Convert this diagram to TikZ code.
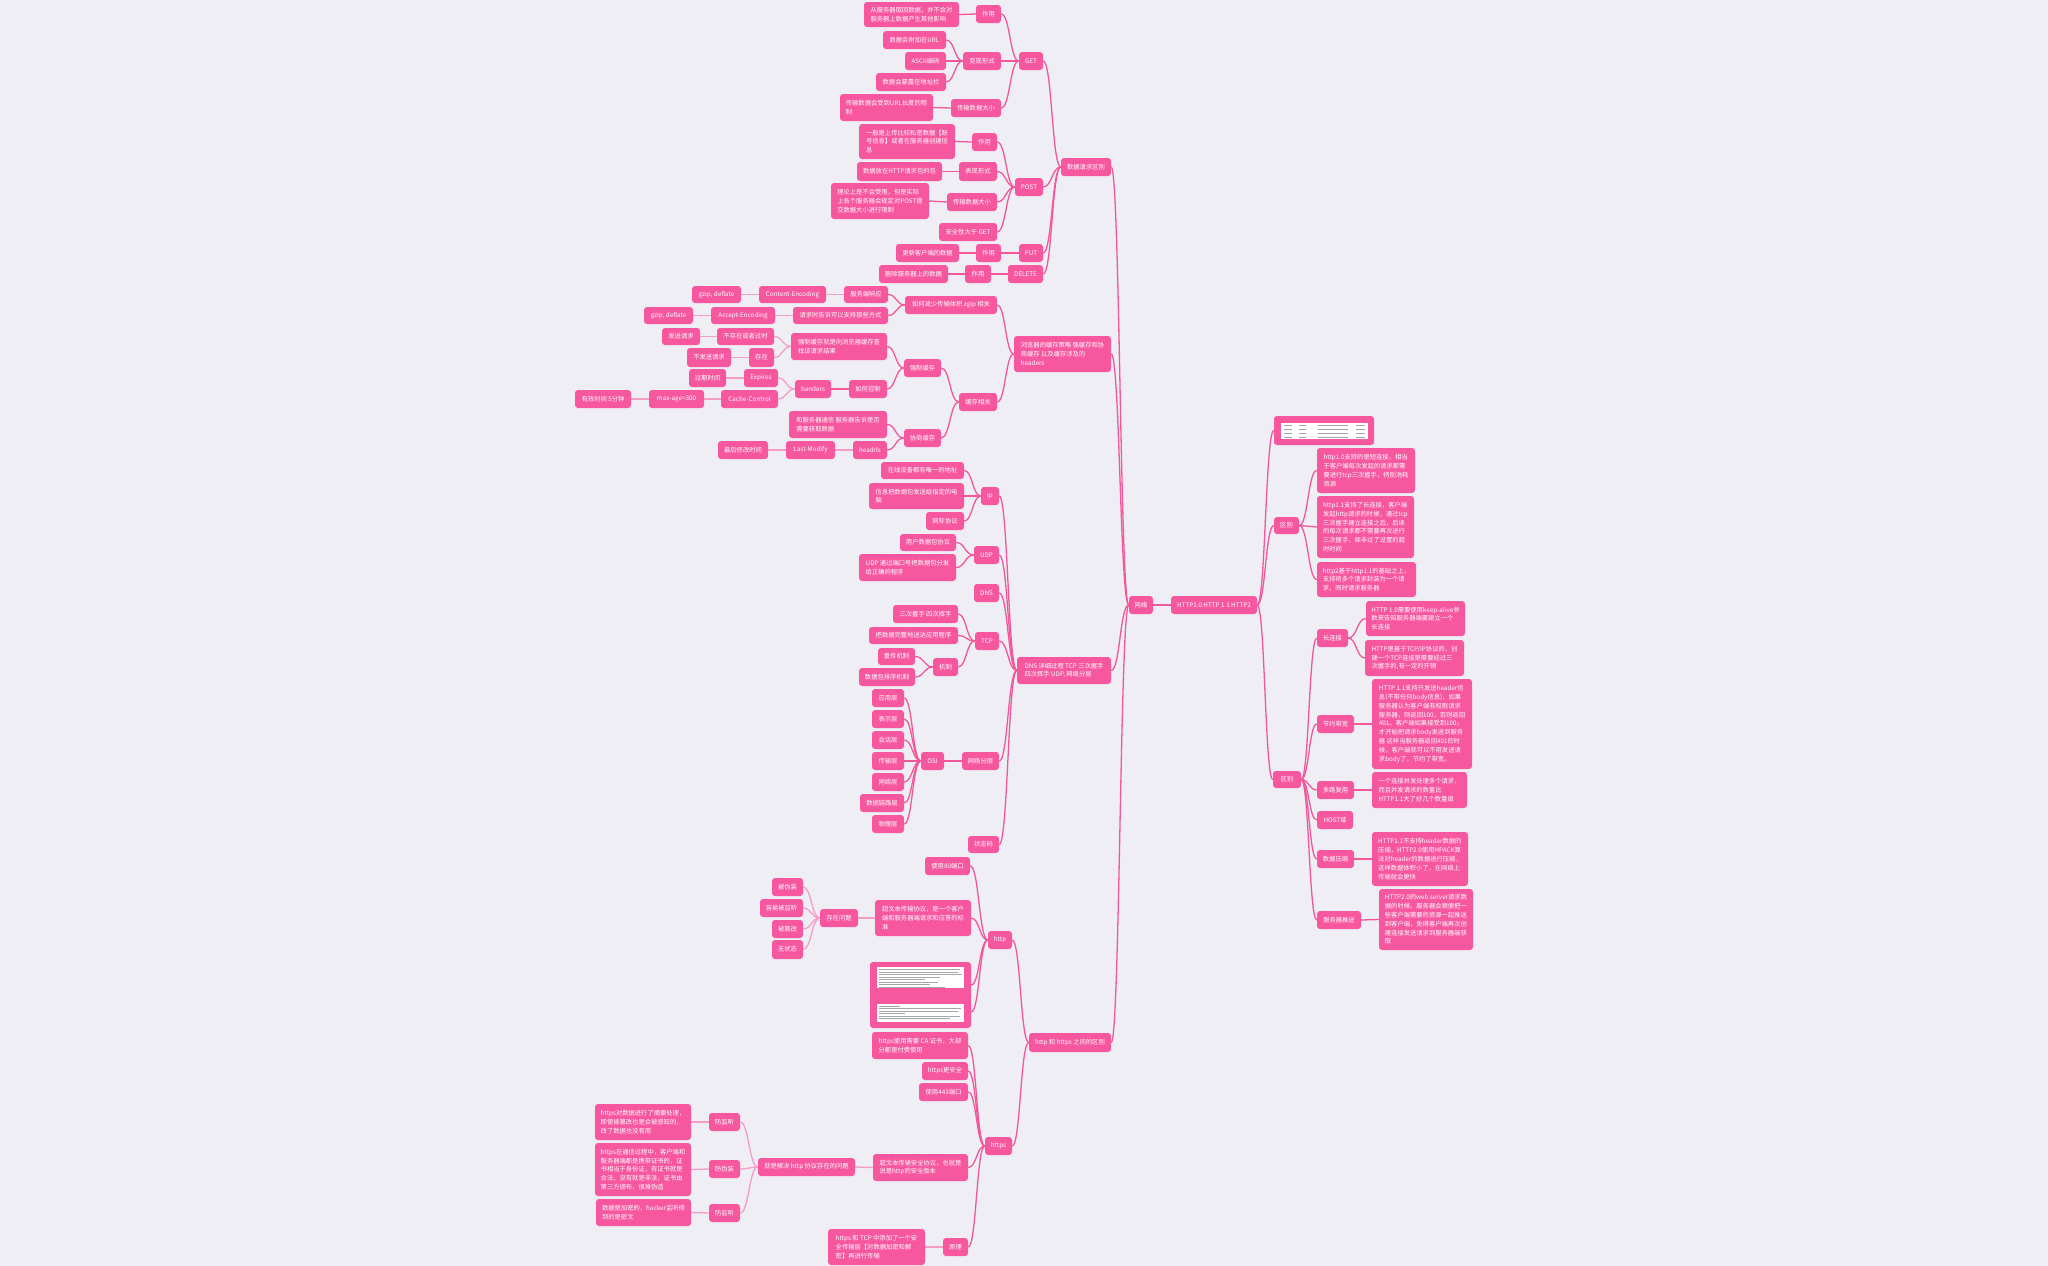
\documentclass[tikz,border=0pt]{standalone}
\usepackage{fontspec}
\setmainfont{Noto Sans CJK SC}
\usetikzlibrary{calc}
\definecolor{pk}{HTML}{F7579F}
\definecolor{ed}{HTML}{F2579C}
\definecolor{edl}{HTML}{F59DC4}
\definecolor{bg}{HTML}{EFEEF4}
\tikzset{
 nb/.style={fill=pk, rounded corners=3pt, text=white, inner sep=0pt, font=\fontsize{6.3}{8.8}\selectfont, align=left},
 lk/.style={draw=ed, line width=1.3pt, to path={.. controls ($(\tikztostart)!0.5!(\tikztotarget |- \tikztostart)$) and ($(\tikztotarget)!0.5!(\tikztostart |- \tikztotarget)$) .. (\tikztotarget) \tikztonodes}},
 lkl/.style={lk, draw=edl},
}
\newcommand\nd[6]{\node[nb, minimum width={#4-#2}, minimum height={#5-#3}] (#1) at ({(#2+#4)/2},{(#3+#5)/2}) {#6};}
\newcommand\fanL[2]{\foreach \c in {#2}{\draw[lk] (#1.west) to (\c.east);}}
\newcommand\fanLl[2]{\foreach \c in {#2}{\draw[lkl] (#1.west) to (\c.east);}}
\newcommand\fanR[2]{\foreach \c in {#2}{\draw[lk] (#1.east) to (\c.west);}}
\begin{document}
\begin{tikzpicture}[x=1pt,y=-1pt]
\fill[bg] (0,0) rectangle (2048,1266);
\useasboundingbox (0,0) rectangle (2048,1266);
% ---------- data request
\nd{dq}{1061}{158}{1111}{176}{数据请求区别}
\nd{get}{1019}{52}{1043}{70}{GET}
\nd{ga}{976}{5}{1001}{23}{作用}
\nd{gaa}{864}{2}{959}{27}{从服务器取回数据，并不会对\\服务器上数据产生其他影响}
\nd{gb}{963}{52}{1001}{70}{变现形式}
\nd{gba}{883}{31}{946}{49}{数据会附加在URL}
\nd{gbb}{905}{52}{946}{70}{ASCII编码}
\nd{gbc}{876}{73}{946}{91}{数据会暴露在地址栏}
\nd{gc}{951}{99}{1001}{117}{传输数据大小}
\nd{gca}{840}{94}{933}{121}{传输数据会受到URL长度的限\\制}
\nd{post}{1015}{178}{1043}{196}{POST}
\nd{pa}{972}{133}{997}{151}{作用}
\nd{paa}{859}{124}{955}{159}{一般是上传比较私密数据【账\\号信息】或者在服务器创建信\\息}
\nd{pb}{959}{162}{997}{181}{表现形式}
\nd{pba}{857}{162}{942}{181}{数据放在HTTP请求包的包}
\nd{pc}{947}{193}{997}{211}{传输数据大小}
\nd{pca}{831}{183}{929}{219}{理论上是不会受限，但是实际\\上各个服务器会规定对POST提\\交数据大小进行限制}
\nd{pd}{939}{223}{997}{241}{安全性大于 GET}
\nd{put}{1019}{244}{1043}{262}{PUT}
\nd{ua}{976}{244}{1001}{262}{作用}
\nd{uaa}{896}{244}{959}{262}{更新客户端的数据}
\nd{del}{1008}{265}{1043}{283}{DELETE}
\nd{da}{965}{265}{991}{283}{作用}
\nd{daa}{879}{265}{948}{283}{删除服务器上的数据}
% ---------- cache
\nd{bc}{1014}{336}{1111}{372}{浏览器的缓存策略 强缓存和协\\商缓存 以及缓存涉及的\\headers}
\nd{zs}{905}{296}{997}{314}{如何减少传输体积 zgip 相关}
\nd{fw}{844}{286}{888}{303}{服务端响应}
\nd{ce}{759}{286}{826}{303}{Content-Encoding}
\nd{gza}{692}{286}{741}{303}{gzip, deflate}
\nd{qq}{793}{307}{888}{324}{请求时告诉可以支持那些方式}
\nd{ae}{711}{307}{775}{324}{Accept-Encoding}
\nd{gzb}{644}{307}{693}{324}{gzip, deflate}
\nd{hc}{959}{393}{997}{411}{缓存相关}
\nd{qz}{904}{359}{941}{377}{强制缓存}
\nd{qzd}{791}{333}{887}{360}{强制缓存就是向浏览器缓存查\\找该请求结果}
\nd{bcz}{717}{328}{774}{345}{不存在或者过时}
\nd{fs}{662}{328}{700}{345}{发送请求}
\nd{cz}{749}{348}{774}{367}{存在}
\nd{bfs}{687}{348}{731}{367}{不发送请求}
\nd{rk}{849}{380}{887}{398}{如何控制}
\nd{hd}{795}{380}{831}{398}{handers}
\nd{ex}{744}{369}{778}{387}{Expires}
\nd{gq}{689}{369}{726}{387}{过期时间}
\nd{cc}{721}{390}{778}{408}{Cache-Control}
\nd{ma}{649}{390}{704}{408}{max-age=300}
\nd{yx}{575}{390}{631}{408}{有效时间 5分钟}
\nd{xs}{904}{429}{941}{447}{协商缓存}
\nd{hf}{789}{411}{887}{438}{和服务器通信 服务器告诉是否\\需要获取数据}
\nd{hr}{853}{441}{887}{459}{headrls}
\nd{lm}{786}{441}{835}{459}{Last-Modify}
\nd{zh}{718}{441}{768}{459}{最后修改时间}
% ---------- DNS / TCP
\nd{dnsz}{1017}{657}{1111}{684}{DNS 详细过程 TCP 三次握手\\四次挥手 UDP, 网络分层}
\nd{ip}{981}{487}{999}{505}{ip}
\nd{ia}{881}{462}{964}{479}{在线设备都有唯一的地址}
\nd{ib}{869}{483}{964}{509}{信息把数据包发送给指定的电\\脑}
\nd{ic}{926}{512}{964}{530}{网际协议}
\nd{udp}{974}{546}{999}{564}{UDP}
\nd{uda}{900}{534}{956}{551}{用户数据包协议}
\nd{udb}{859}{554}{956}{581}{UDP 通过端口号把数据包分发\\给正确的程序}
\nd{dns}{974}{584}{999}{602}{DNS}
\nd{tcp}{975}{632}{999}{650}{TCP}
\nd{ta}{893}{605}{958}{623}{三次握手 四次挥手}
\nd{tb}{869}{627}{958}{644}{把数据完整地送达应用程序}
\nd{tc}{933}{658}{958}{676}{机制}
\nd{tca}{878}{648}{915}{665}{重传机制}
\nd{tcb}{859}{668}{915}{686}{数据包排序机制}
\nd{fc}{962}{752}{999}{770}{网络分层}
\nd{osi}{921}{752}{944}{770}{OSI}
\nd{la}{872}{689}{904}{707}{应用层}
\nd{lb}{872}{710}{904}{728}{表示层}
\nd{lc}{872}{731}{904}{749}{会话层}
\nd{ld}{872}{752}{904}{770}{传输层}
\nd{le}{872}{773}{904}{791}{网络层}
\nd{lf}{860}{794}{904}{812}{数据链路层}
\nd{lg}{872}{815}{904}{833}{物理层}
\nd{zt}{968}{836}{999}{853}{状态码}
% ---------- http / https
\nd{hh}{1029}{1033}{1111}{1052}{http 和 https 之间的区别}
\nd{http}{988}{931}{1012}{949}{http}
\nd{hea}{925}{857}{970}{875}{使用80端口}
\nd{hcs}{875}{900}{971}{936}{超文本传输协议，是一个客户\\端和服务器端请求和应答的标\\准}
\nd{wt}{820}{909}{858}{927}{存在问题}
\nd{wa}{772}{878}{803}{896}{被伪装}
\nd{wb}{760}{899}{803}{917}{容易被监听}
\nd{wc}{772}{920}{803}{938}{被篡改}
\nd{wd}{772}{940}{803}{959}{无状态}
\nd{imgs}{870}{962}{971}{1028}{}
\nd{https}{985}{1137}{1012}{1155}{https}
\nd{sa}{872}{1032}{968}{1059}{https使用需要 CA 证书，大部\\分都是付费使用}
\nd{sb}{922}{1062}{968}{1080}{https更安全}
\nd{sc}{919}{1083}{968}{1101}{使用443端口}
\nd{sd}{873}{1154}{968}{1181}{超文本传输安全协议，也就是\\说是http的安全版本}
\nd{sda}{758}{1158}{855}{1176}{就是解决 http 协议存在的问题}
\nd{fa}{709}{1113}{740}{1131}{防监听}
\nd{faa}{595}{1104}{691}{1140}{https对数据进行了摘要处理，\\即使被篡改也是会被感知的，\\改了数据也没有用}
\nd{fb}{709}{1160}{740}{1178}{防伪装}
\nd{fba}{595}{1143}{691}{1196}{https在通信过程中，客户端和\\服务器端都是携带证书的，证\\书相当于身份证，有证书就是\\合法，没有就是非法，证书由\\第三方颁布，很难伪造}
\nd{fcc}{709}{1204}{740}{1222}{防监听}
\nd{fca}{596}{1199}{691}{1226}{数据是加密的，hacker监听得\\到的是密文}
\nd{yl}{943}{1238}{968}{1256}{原理}
\nd{yla}{828}{1229}{925}{1265}{https 和 TCP 中添加了一个安\\全传输层【对数据加密和解\\密】再进行传输}
% ---------- root and right side
\nd{root}{1129}{596}{1153}{614}{网络}
\nd{hv}{1171}{596}{1257}{614}{HTTP1.0 HTTP 1.1 HTTP2}
\nd{tbl}{1274}{416}{1374}{445}{}
\nd{qba}{1274}{517}{1299}{534}{区别}
\nd{aa}{1317}{448}{1415}{493}{http1.0支持的是短连接，相当\\于客户端每次发起的请求都需\\要进行tcp三次握手，特别消耗\\资源}
\nd{ab}{1317}{496}{1414}{558}{http1.1支持了长连接，客户端\\发起http请求的时候，通过tcp\\三次握手建立连接之后，后续\\的每次请求都不需要再次进行\\三次握手，除非过了设置的超\\时时间}
\nd{ac}{1317}{562}{1416}{597}{http2基于http1.1的基础之上，\\支持将多个请求封装为一个请\\求，同时请求服务器}
\nd{qbb}{1273}{771}{1301}{788}{区别}
\nd{cl}{1317}{629}{1348}{647}{长连接}
\nd{cla}{1366}{601}{1465}{636}{HTTP 1.0需要使用keep-alive参\\数来告知服务器端要建立一个\\长连接}
\nd{clb}{1365}{640}{1464}{676}{HTTP是基于TCP/IP协议的，创\\建一个TCP连接是需要经过三\\次握手的,有一定的开销}
\nd{jy}{1317}{715}{1354}{733}{节约带宽}
\nd{jya}{1372}{679}{1472}{769}{HTTP 1.1支持只发送header信\\息(不带任何body信息)，如果\\服务器认为客户端有权限请求\\服务器，则返回100，否则返回\\401。客户端如果接受到100，\\才开始把请求body发送到服务\\器 这样当服务器返回401的时\\候，客户端就可以不用发送请\\求body了，节约了带宽。}
\nd{dl}{1317}{781}{1354}{799}{多路复用}
\nd{dla}{1372}{772}{1467}{808}{一个连接并发处理多个请求，\\而且并发请求的数量比\\HTTP1.1大了好几个数量级}
\nd{host}{1317}{811}{1353}{829}{HOST域}
\nd{ys}{1317}{850}{1354}{868}{数据压缩}
\nd{ysa}{1372}{832}{1468}{886}{HTTP1.1不支持header数据的\\压缩，HTTP2.0使用HPACK算\\法对header的数据进行压缩，\\这样数据体积小了，在网络上\\传输就会更快}
\nd{ts}{1317}{911}{1361}{929}{服务器推送}
\nd{tsa}{1379}{889}{1473}{950}{HTTP2.0的web server请求数\\据的时候，服务器会顺便把一\\些客户端需要的资源一起推送\\到客户端，免得客户端再次创\\建连接发送请求到服务器端获\\取}
% ---------- pictures inside image nodes
\fill[white] (1281,423) rectangle (1368,439);
\foreach \yy in {425.5,429.5,433.5,437} {
  \draw[black!35, line width=0.5pt] (1284,\yy) -- (1292,\yy) (1299,\yy) -- (1306,\yy) (1318,\yy) -- (1348,\yy) (1356,\yy) -- (1365,\yy);
}
\fill[white] (877,967) rectangle (964,988);
\foreach \yy/\ee in {969.5/960,972/958,974.5/962,977/940,979.5/925,982/938,984.5/930,987/945} {
  \draw[black!35, line width=0.45pt] (879,\yy) -- (\ee,\yy);
}
\fill[white] (877,1004) rectangle (964,1022);
\foreach \yy/\ee in {1006/900,1008.5/961,1011/958,1013.5/905,1016/960,1018.5/950} {
  \draw[black!35, line width=0.45pt] (879,\yy) -- (\ee,\yy);
}
\coordinate (imgu) at ([yshift=10pt]imgs.east);
\coordinate (imgd) at ([yshift=-17pt]imgs.east);
% ---------- connectors
\fanL{root}{dq,bc,dnsz,hh}
\fanL{dq}{get,post,put,del}
\fanL{get}{ga,gb,gc}
\fanL{ga}{gaa}
\fanL{gb}{gba,gbb,gbc}
\fanL{gc}{gca}
\fanL{post}{pa,pb,pc,pd}
\fanL{pa}{paa}
\fanL{pb}{pba}
\fanL{pc}{pca}
\fanL{put}{ua}
\fanL{ua}{uaa}
\fanL{del}{da}
\fanL{da}{daa}
\fanL{bc}{zs,hc}
\fanL{zs}{fw,qq}
\fanLl{fw}{ce}
\fanLl{ce}{gza}
\fanLl{qq}{ae}
\fanLl{ae}{gzb}
\fanL{hc}{qz,xs}
\fanL{qz}{qzd,rk}
\fanLl{qzd}{bcz,cz}
\fanLl{bcz}{fs}
\fanLl{cz}{bfs}
\fanL{rk}{hd}
\fanLl{hd}{ex,cc}
\fanLl{ex}{gq}
\fanLl{cc}{ma}
\fanLl{ma}{yx}
\fanL{xs}{hf,hr}
\fanLl{hr}{lm}
\fanLl{lm}{zh}
\fanL{dnsz}{ip,udp,dns,tcp,fc,zt}
\fanL{ip}{ia,ib,ic}
\fanL{udp}{uda,udb}
\fanL{tcp}{ta,tb,tc}
\fanL{tc}{tca,tcb}
\fanL{fc}{osi}
\fanL{osi}{la,lb,lc,ld,le,lf,lg}
\fanL{hh}{http,https}
\fanL{http}{hea,hcs}
\draw[lk] (http.west) to (imgu);
\draw[lk] (http.west) to (imgd);
\fanLl{hcs}{wt}
\fanLl{wt}{wa,wb,wc,wd}
\fanL{https}{sa,sb,sc,sd,yl}
\fanLl{sd}{sda}
\fanLl{sda}{fa,fb,fcc}
\fanLl{fa}{faa}
\fanLl{fb}{fba}
\fanLl{fcc}{fca}
\fanLl{yl}{yla}
\fanR{root}{hv}
\fanR{hv}{tbl,qba,qbb}
\fanR{qba}{aa,ab,ac}
\fanR{qbb}{cl,jy,dl,host,ys,ts}
\fanR{cl}{cla,clb}
\fanR{jy}{jya}
\fanR{dl}{dla}
\fanR{ys}{ysa}
\fanR{ts}{tsa}
\end{tikzpicture}
\end{document}
